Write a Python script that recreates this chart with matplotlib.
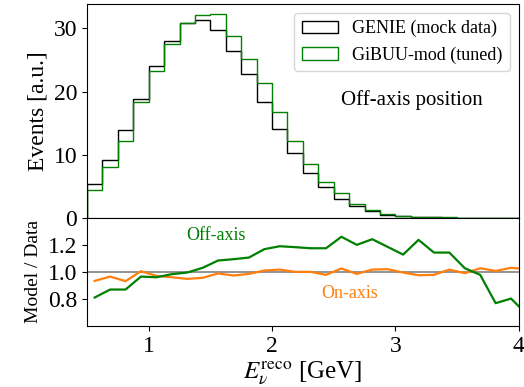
import numpy as np
import matplotlib
matplotlib.use("Agg")
import matplotlib.pyplot as plt

plt.rcParams["font.family"] = ["Liberation Serif", "DejaVu Serif"]
plt.rcParams["mathtext.fontset"] = "stix"

# Reconstructed neutrino energy binning [GeV]
bin_edges = np.arange(0.5, 4.126, 0.125)

# Event spectra at the off-axis position [a.u.]
genie_events = [5.37, 9.2, 13.9, 18.9, 24.1, 28.05, 30.9, 31.3, 29.7, 26.4,
                22.8, 18.3, 14.1, 10.3, 7.1, 4.9, 3.05, 1.9, 1.16, 0.53,
                0.32, 0.16, 0.1, 0.06, 0.04, 0.03, 0.02, 0.01, 0.01]
gibuu_events = [4.37, 8.0, 12.1, 18.3, 23.2, 27.6, 30.9, 32.2, 32.3, 28.8,
                25.2, 21.4, 16.7, 12.1, 8.5, 5.7, 3.9, 2.26, 1.3, 0.63,
                0.37, 0.18, 0.11, 0.07, 0.04, 0.03, 0.02, 0.01, 0.01]

# Model / data ratios
ratio_off_axis = [0.81, 0.869, 0.869, 0.965, 0.96, 0.983, 0.995, 1.03, 1.084, 1.094,
                  1.106, 1.168, 1.19, 1.183, 1.175, 1.175, 1.26, 1.2, 1.242, 1.185,
                  1.128, 1.237, 1.143, 1.143, 1.027, 0.978, 0.768, 0.802, 0.689]
ratio_on_axis = [0.933, 0.965, 0.931, 1.005, 0.97, 0.96, 0.948, 0.956, 0.988, 0.973,
                 0.985, 1.01, 1.017, 1.0, 1.0, 0.978, 1.025, 0.985, 1.017, 1.02,
                 0.995, 0.975, 0.978, 1.017, 0.99, 1.027, 1.007, 1.03, 1.02]

centers = 0.5 * (bin_edges[:-1] + bin_edges[1:])

GREEN = "#008000"
ORANGE = "#ff7f0e"

fig = plt.figure(figsize=(5.24, 3.87), dpi=100)
ax = fig.add_axes([0.166, 0.437, 0.824, 0.553])
axr = fig.add_axes([0.166, 0.158, 0.824, 0.279], sharex=ax)

ax.hist(centers, bins=bin_edges, weights=genie_events, histtype="step",
        color="black", lw=1.0, label="GENIE (mock data)")
ax.hist(centers, bins=bin_edges, weights=gibuu_events, histtype="step",
        color=GREEN, lw=1.0, label="GiBUU-mod (tuned)")
ax.set_xlim(0.5, 4.0)
ax.set_ylim(0, 33.9)
ax.set_yticks([0, 10, 20, 30])
ax.set_ylabel("Events [a.u.]", fontsize=17)
ax.tick_params(axis="y", labelsize=17)
ax.tick_params(axis="x", length=0, labelbottom=False)
ax.legend(loc="upper right", fontsize=13, handlelength=2.0,
          borderaxespad=0.5, framealpha=0.8)
ax.text(3.13, 18.7, "Off-axis position", fontsize=15, ha="center", va="center")

axr.axhline(1.0, color="gray", lw=1.2, zorder=1)
axr.plot(centers, ratio_on_axis, color=ORANGE, lw=1.6, zorder=2)
axr.plot(centers, ratio_off_axis, color=GREEN, lw=1.6, zorder=3)
axr.set_ylim(0.6, 1.4)
axr.set_yticks([0.8, 1.0, 1.2])
axr.set_yticklabels(["0.8", "1.0", "1.2"])
axr.set_xticks([1, 2, 3, 4])
axr.tick_params(labelsize=17)
axr.set_ylabel("Model / Data", fontsize=14)
axr.set_xlabel(r"$E_\nu^{\rm reco}$ [GeV]", fontsize=18, labelpad=2)
axr.text(1.544, 1.267, "Off-axis", color=GREEN, fontsize=13, ha="center", va="center")
axr.text(2.633, 0.842, "On-axis", color=ORANGE, fontsize=13, ha="center", va="center")

fig.savefig("out.png", dpi=100)
